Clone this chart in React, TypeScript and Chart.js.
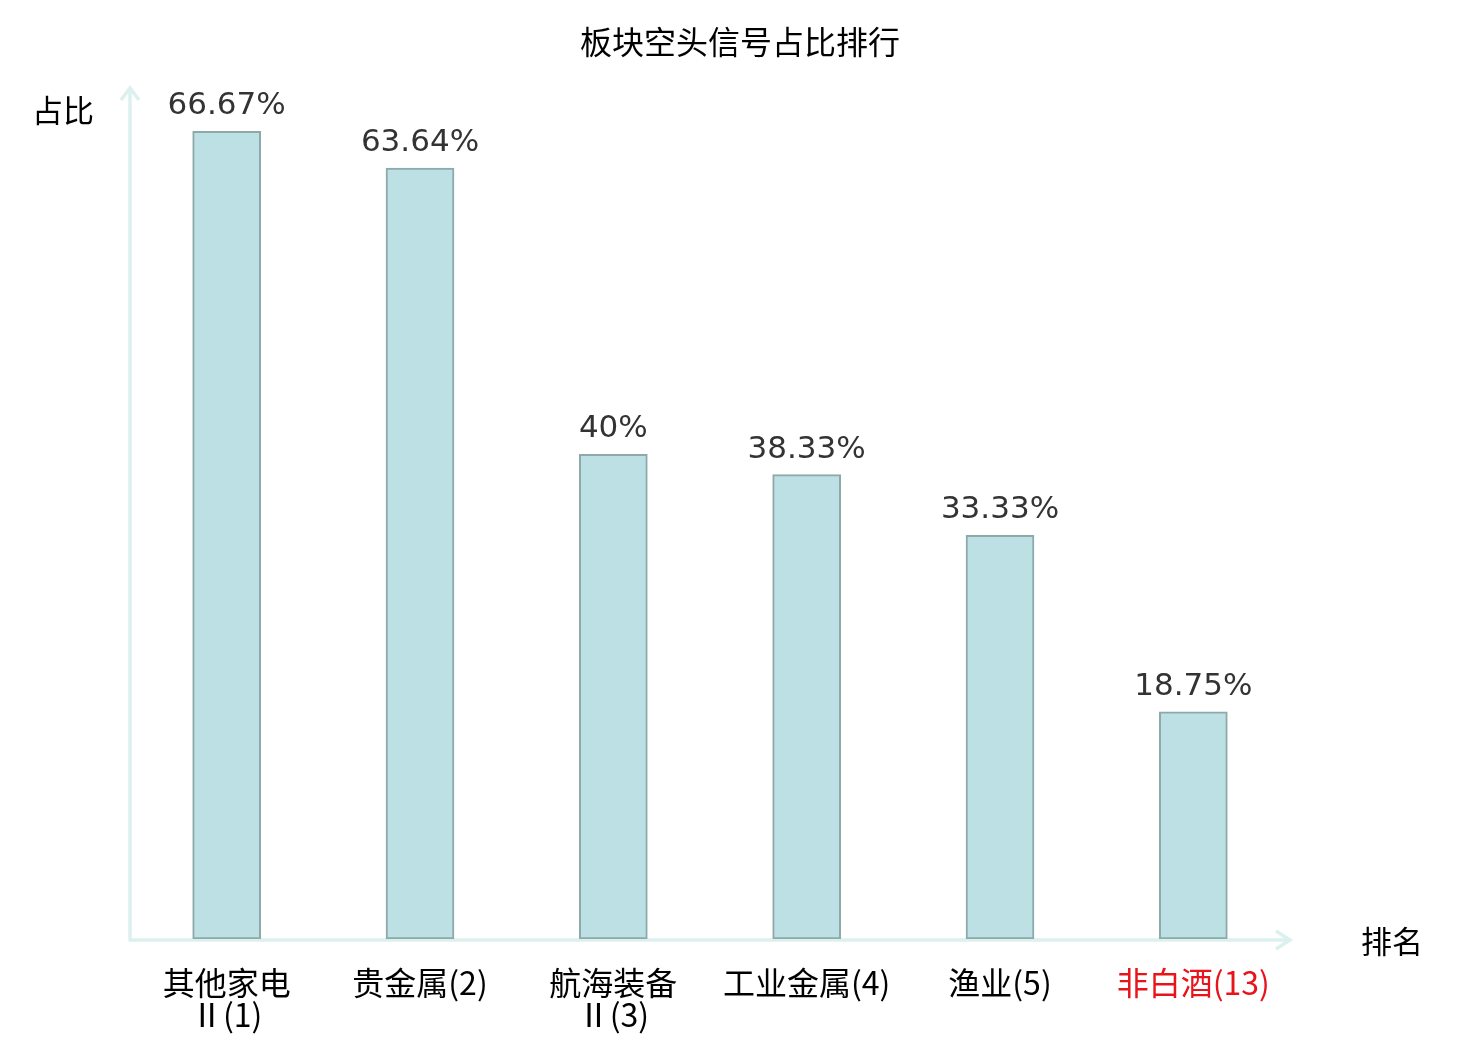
import React, { useEffect, useRef } from "react";
import { Chart, registerables } from "chart.js";

Chart.register(...registerables);

const chartTitle = "板块空头信号占比排行";
const yAxisName = "占比";
const xAxisName = "排名";
const categories: string[][] = [
  ["其他家电", "Ⅱ(1)"],
  ["贵金属(2)"],
  ["航海装备", "Ⅱ(3)"],
  ["工业金属(4)"],
  ["渔业(5)"],
  ["非白酒(13)"],
];
const values: number[] = [66.67, 63.64, 40, 38.33, 33.33, 18.75];
const valueLabels: string[] = ["66.67%", "63.64%", "40%", "38.33%", "33.33%", "18.75%"];
const highlighted: boolean[] = [false, false, false, false, false, true];
const yMin = 0;
const yMax = 70;

const CJK = '"Noto Sans CJK SC", "Noto Sans", sans-serif';
const AXIS_COLOR = "#dcf1ee";

const decorPlugin = {
  id: "decor",
  beforeDatasetsDraw(chart: any) {
    const { ctx, chartArea } = chart;
    const { left, right, top, bottom } = chartArea;
    ctx.save();
    // title, centred on the whole canvas
    ctx.font = "32px " + CJK;
    ctx.fillStyle = "#000000";
    ctx.textAlign = "center";
    ctx.textBaseline = "middle";
    ctx.fillText(chartTitle, chart.width / 2, 42);

    ctx.strokeStyle = AXIS_COLOR;
    ctx.lineWidth = 3.5;
    ctx.lineCap = "butt";
    ctx.lineJoin = "miter";
    // y axis
    const yTip = top - 3;
    ctx.beginPath();
    ctx.moveTo(left, bottom + 2);
    ctx.lineTo(left, yTip + 1);
    ctx.stroke();
    ctx.beginPath();
    ctx.moveTo(left - 9, yTip + 12);
    ctx.lineTo(left, yTip);
    ctx.lineTo(left + 9, yTip + 12);
    ctx.stroke();
    // x axis
    const yLine = bottom + 1;
    ctx.beginPath();
    ctx.moveTo(left - 1, yLine);
    ctx.lineTo(right - 1, yLine);
    ctx.stroke();
    ctx.beginPath();
    ctx.moveTo(right - 14, yLine - 9);
    ctx.lineTo(right, yLine);
    ctx.lineTo(right - 14, yLine + 9);
    ctx.stroke();
    ctx.restore();
  },
  afterDatasetsDraw(chart: any) {
    const { ctx, chartArea } = chart;
    const meta = chart.getDatasetMeta(0);
    ctx.save();
    ctx.font = '31px "DejaVu Sans", sans-serif';
    ctx.fillStyle = "#333333";
    ctx.textAlign = "center";
    ctx.textBaseline = "alphabetic";
    meta.data.forEach((bar: any, i: number) => {
      ctx.fillText(valueLabels[i], bar.x, bar.y - 17);
    });
    // axis names
    ctx.font = "31px " + CJK;
    ctx.fillStyle = "#000000";
    ctx.textBaseline = "middle";
    ctx.textAlign = "center";
    ctx.fillText(yAxisName, chartArea.left - 67, chartArea.top + 19);
    ctx.fillText(xAxisName, chartArea.right + 102, chartArea.bottom + 2);
    ctx.restore();
  },
};

export default function App() {
  const canvasRef = useRef<HTMLCanvasElement | null>(null);

  useEffect(() => {
    if (!canvasRef.current) return;
    const chart = new Chart(canvasRef.current, {
      type: "bar",
      data: {
        labels: categories,
        datasets: [
          {
            data: values,
            backgroundColor: "#bce0e3",
            borderColor: "#8ea9a9",
            borderWidth: 2,
            borderSkipped: false,
            barThickness: 68,
          },
        ],
      },
      options: {
        animation: false,
        responsive: false,
        devicePixelRatio: 1,
        layout: { padding: { left: 130, right: 190, top: 91, bottom: 0 } },
        plugins: {
          legend: { display: false },
          tooltip: { enabled: false },
          title: { display: false },
        },
        scales: {
          x: {
            grid: { display: false, drawTicks: false },
            border: { display: false },
            ticks: {
              autoSkip: false,
              maxRotation: 0,
              padding: 28,
              font: { family: CJK, size: 32, lineHeight: 1.0 },
              color: (c: any) => (highlighted[c.index] ? "#e8141b" : "#000000"),
            },
            afterFit: (scale: any) => {
              scale.height = 101;
            },
          },
          y: {
            display: false,
            min: yMin,
            max: yMax,
          },
        },
      },
      plugins: [decorPlugin],
    });
    return () => chart.destroy();
  }, []);

  return (
    <div style={{ position: "absolute", left: 0, top: 0, width: 1480, height: 1040, background: "#ffffff" }}>
      <canvas ref={canvasRef} width={1480} height={1040} style={{ display: "block" }} />
    </div>
  );
}
